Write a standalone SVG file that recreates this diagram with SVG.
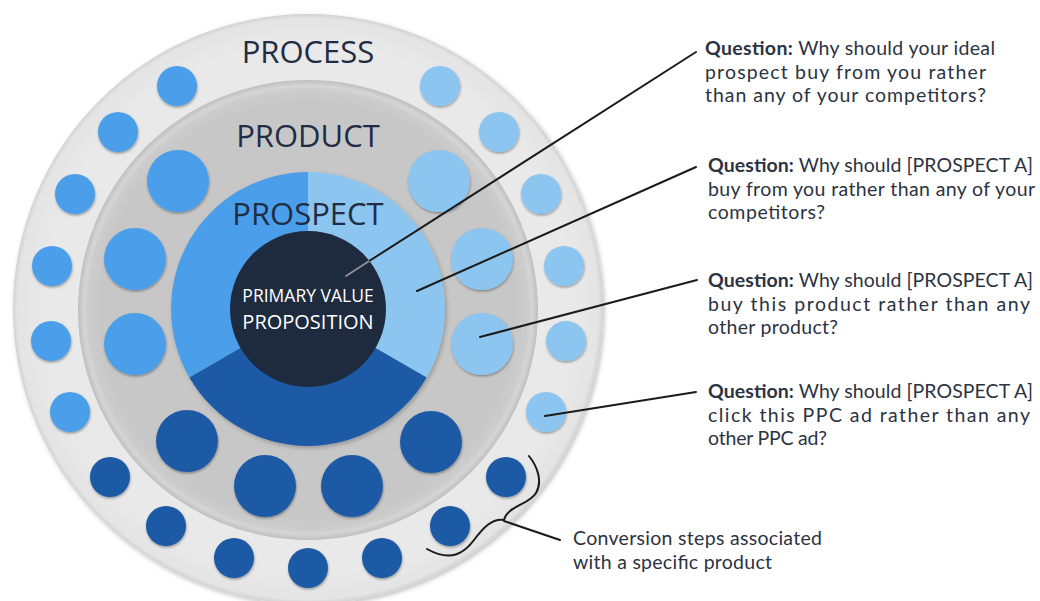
<svg xmlns="http://www.w3.org/2000/svg" width="1040" height="601" viewBox="0 0 1040 601">
  <defs>
    <radialGradient id="gOuter" cx="0.5" cy="0.5" r="0.5">
      <stop offset="0.9" stop-color="#e9e9e9"/>
      <stop offset="0.985" stop-color="#e4e4e4"/>
      <stop offset="1" stop-color="#d2d2d2"/>
    </radialGradient>
    <radialGradient id="gMiddle" cx="0.5" cy="0.5" r="0.5">
      <stop offset="0.9" stop-color="#c7c7c7"/>
      <stop offset="0.955" stop-color="#cccccc"/>
      <stop offset="0.975" stop-color="#d5d5d5"/>
      <stop offset="1" stop-color="#bfbfbf"/>
    </radialGradient>
    <filter id="ringShadow" x="-10%" y="-10%" width="120%" height="120%">
      <feDropShadow dx="1.5" dy="2" stdDeviation="2" flood-color="#000" flood-opacity="0.25"/>
    </filter>
    <filter id="dotShadow" x="-30%" y="-30%" width="160%" height="170%">
      <feDropShadow dx="0.5" dy="1.5" stdDeviation="1" flood-color="#000" flood-opacity="0.35"/>
    </filter>
    <style>
      .ring-label { font-family: "Open Sans", "Liberation Sans", sans-serif; font-size: 31px; fill: #1f2d45; text-anchor: middle; }
      .core-label { font-family: "Open Sans", "Liberation Sans", sans-serif; fill: #ffffff; text-anchor: middle; }
      .q { font-family: Lato, "Liberation Sans", sans-serif; font-size: 19.5px; fill: #2c3341; }
      .q .b { font-weight: bold; }
      .mid { fill: #4b9fea; filter: url(#dotShadow); }
      .light { fill: #8cc5ef; filter: url(#dotShadow); }
      .dark { fill: #1e5aa6; filter: url(#dotShadow); }
      .conn { stroke: #1b1b1b; stroke-width: 2; fill: none; stroke-linecap: round; }
    </style>
  </defs>

  <rect width="1040" height="601" fill="#ffffff"/>

  <!-- outer ring: PROCESS -->
  <g id="process-ring">
    <circle cx="308" cy="309" r="295" fill="url(#gOuter)" filter="url(#ringShadow)"/>
    <text class="ring-label" x="308" y="63">PROCESS</text>
  </g>

  <!-- middle ring: PRODUCT -->
  <g id="product-ring">
    <circle cx="308" cy="310" r="230" fill="url(#gMiddle)"/>
    <text class="ring-label" x="308" y="147">PRODUCT</text>
  </g>

  <!-- inner pie: PROSPECT -->
  <g id="prospect-ring" filter="url(#ringShadow)">
    <path d="M308,309 L308,172 A137,137 0 0 0 189.4,377.5 Z" fill="#4b9fea"/>
    <path d="M308,309 L308,172 A137,137 0 0 1 426.6,377.5 Z" fill="#8cc5ef"/>
    <path d="M308,309 L426.6,377.5 A137,137 0 0 1 189.4,377.5 Z" fill="#1e5aa6"/>
  </g>
  <text id="prospect-label" class="ring-label" x="308" y="225">PROSPECT</text>

  <!-- core -->
  <g id="value-proposition">
    <circle cx="308" cy="309" r="78" fill="#1e2a3d"/>
    <text class="core-label" x="308" y="302" font-size="17.5">PRIMARY VALUE</text>
    <text class="core-label" x="308" y="328.5" font-size="20">PROPOSITION</text>
  </g>

  <!-- product-level steps -->
  <g id="product-steps">
    <circle class="mid" cx="178" cy="181" r="31"/>
    <circle class="mid" cx="135" cy="259" r="31"/>
    <circle class="mid" cx="135" cy="344" r="31"/>
    <circle class="light" cx="439" cy="181" r="31"/>
    <circle class="light" cx="482" cy="259" r="31"/>
    <circle class="light" cx="482" cy="344" r="31"/>
    <circle class="dark" cx="187" cy="441" r="31"/>
    <circle class="dark" cx="265" cy="486" r="31"/>
    <circle class="dark" cx="352" cy="486" r="31"/>
    <circle class="dark" cx="431" cy="442" r="31"/>
  </g>

  <!-- process-level steps -->
  <g id="process-steps">
    <circle class="mid" cx="177" cy="86" r="20"/>
    <circle class="mid" cx="118" cy="132" r="20"/>
    <circle class="mid" cx="75" cy="194" r="20"/>
    <circle class="mid" cx="52" cy="266" r="20"/>
    <circle class="mid" cx="51" cy="341" r="20"/>
    <circle class="mid" cx="70" cy="412" r="20"/>
    <circle class="light" cx="440" cy="86" r="20"/>
    <circle class="light" cx="499" cy="132" r="20"/>
    <circle class="light" cx="541" cy="194" r="20"/>
    <circle class="light" cx="564" cy="266" r="20"/>
    <circle class="light" cx="566" cy="341" r="20"/>
    <circle class="light" cx="546" cy="412" r="20"/>
    <circle class="dark" cx="110" cy="477" r="20"/>
    <circle class="dark" cx="166" cy="526" r="20"/>
    <circle class="dark" cx="234" cy="558" r="20"/>
    <circle class="dark" cx="308" cy="568" r="20"/>
    <circle class="dark" cx="382" cy="558" r="20"/>
    <circle class="dark" cx="450" cy="526" r="20"/>
    <circle class="dark" cx="506" cy="477" r="20"/>
  </g>

  <!-- leader lines and brace -->
  <g id="connectors">
    <line x1="346" y1="276" x2="370" y2="260.5" stroke="#8a909a" stroke-width="2" stroke-linecap="round"/>
    <line class="conn" x1="370" y1="260.5" x2="696" y2="52"/>
    <line class="conn" x1="417" y1="291" x2="696" y2="167"/>
    <line class="conn" x1="480" y1="337" x2="697" y2="280"/>
    <line class="conn" x1="545" y1="416" x2="696" y2="392"/>
    <path class="conn" stroke-width="1.8" d="M529,456 C537,466 543,481 536,493 C529,505 507,506 504,520 C492,518 483,528 474,540 C465,552 452,563 427,549"/>
    <line class="conn" x1="504" y1="521" x2="560" y2="540"/>
  </g>

  <!-- annotations -->
  <g id="q-prospect-ideal">
    <text class="q" x="705" y="55" textLength="290" lengthAdjust="spacing"><tspan class="b">Question:</tspan> Why should your ideal</text>
    <text class="q" x="705" y="78.5" textLength="281" lengthAdjust="spacing">prospect buy from you rather</text>
    <text class="q" x="705" y="102" textLength="281" lengthAdjust="spacing">than any of your competitors?</text>
  </g>
  <g id="q-prospect-a">
    <text class="q" x="708" y="172" textLength="325" lengthAdjust="spacing"><tspan class="b">Question:</tspan> Why should [PROSPECT A]</text>
    <text class="q" x="708" y="195.5" textLength="327" lengthAdjust="spacing">buy from you rather than any of your</text>
    <text class="q" x="708" y="219" textLength="117" lengthAdjust="spacing">competitors?</text>
  </g>
  <g id="q-product">
    <text class="q" x="708" y="287" textLength="325" lengthAdjust="spacing"><tspan class="b">Question:</tspan> Why should [PROSPECT A]</text>
    <text class="q" x="708" y="310.5" textLength="322" lengthAdjust="spacing">buy this product rather than any</text>
    <text class="q" x="708" y="334" textLength="130" lengthAdjust="spacing">other product?</text>
  </g>
  <g id="q-ppc">
    <text class="q" x="708" y="398" textLength="325" lengthAdjust="spacing"><tspan class="b">Question:</tspan> Why should [PROSPECT A]</text>
    <text class="q" x="708" y="421.5" textLength="322" lengthAdjust="spacing">click this PPC ad rather than any</text>
    <text class="q" x="708" y="445" textLength="119" lengthAdjust="spacing">other PPC ad?</text>
  </g>
  <g id="conversion-note">
    <text class="q" x="573" y="545" textLength="249" lengthAdjust="spacing">Conversion steps associated</text>
    <text class="q" x="573" y="568.5" textLength="199" lengthAdjust="spacing">with a specific product</text>
  </g>
</svg>
